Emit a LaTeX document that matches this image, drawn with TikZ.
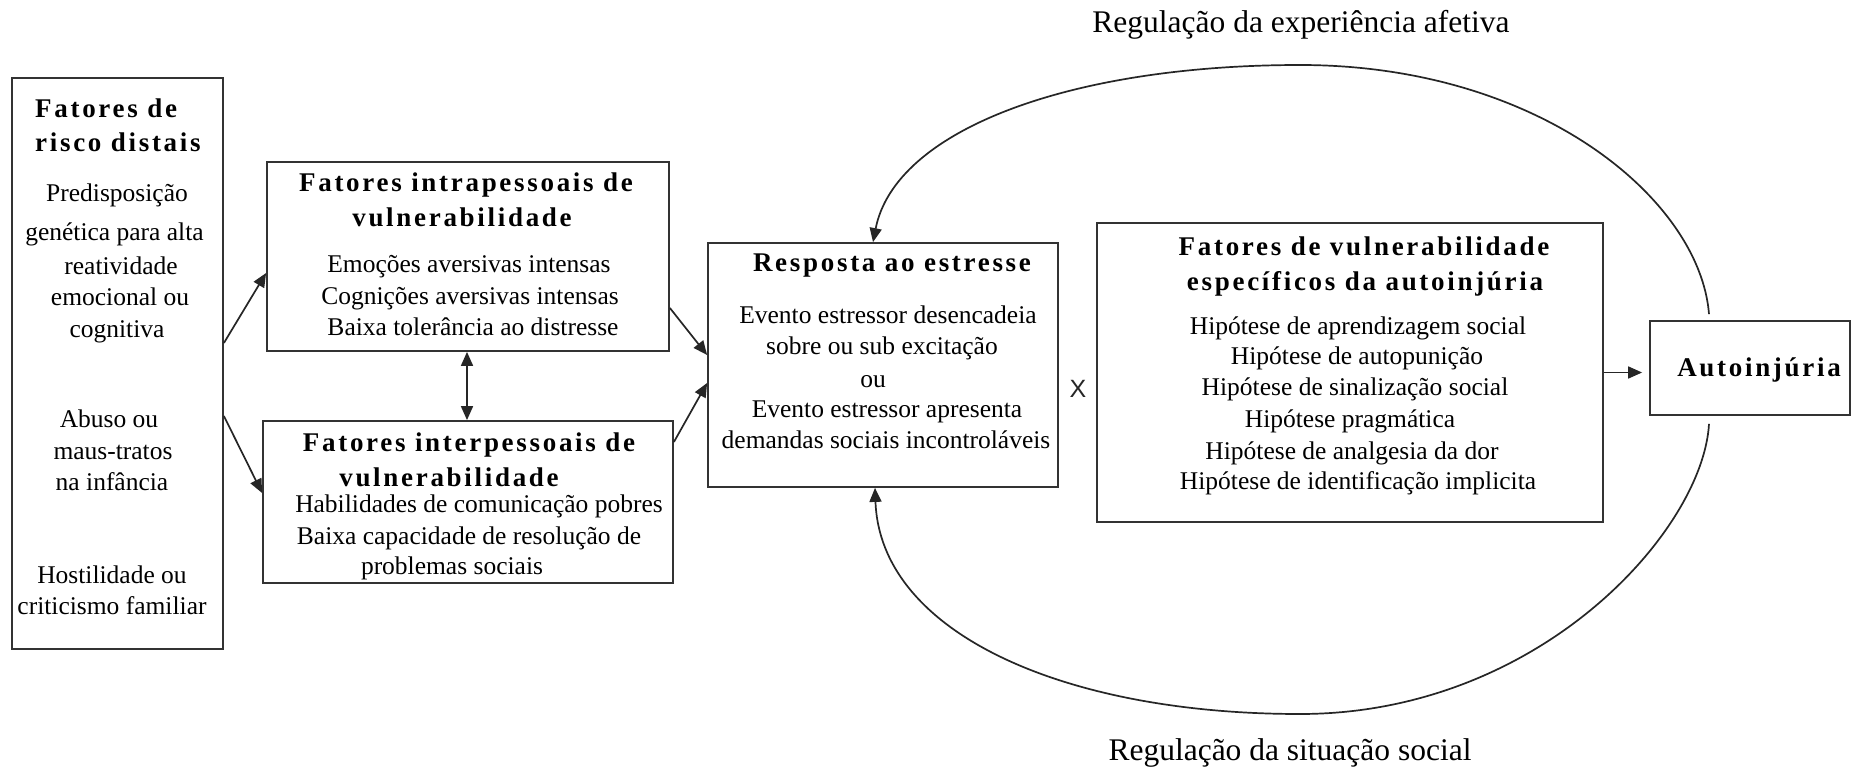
\documentclass[tikz,border=0pt]{standalone}
\usepackage{fontspec}
\setmainfont{Liberation Serif}
\newfontfamily\ttlfont[LetterSpace=10]{Liberation Serif}
\newfontfamily\xfont{Liberation Sans}
\usetikzlibrary{arrows.meta}
\begin{document}
\begin{tikzpicture}[x=1pt,y=-1pt,
  box/.style={draw=black!80, line width=1.8pt, inner sep=0pt, rectangle},
  bt/.style={font=\fontsize{25.5pt}{30pt}\selectfont, anchor=base, inner sep=0pt, text=black},
  tt/.style={font=\ttlfont\bfseries\fontsize{27pt}{30pt}\selectfont, anchor=base, inner sep=0pt, text=black},
  lbl/.style={font=\fontsize{31.5pt}{34pt}\selectfont, anchor=base, inner sep=0pt, text=black},
  arr/.style={-{Triangle[length=14pt,width=12pt]}, line width=1.7pt, draw=black!85},
  darr/.style={{Triangle[length=14pt,width=12pt]}-{Triangle[length=14pt,width=12pt]}, line width=1.7pt, draw=black!85},
]
\useasboundingbox (0,0) rectangle (1852,768);
\fill[white] (0,0) rectangle (1852,768);

% boxes
\node[box, minimum width=211pt, minimum height=571pt] (dist) at (117.5,363.5) {};
\node[box, minimum width=402pt, minimum height=189pt] (intra) at (468,256.5) {};
\node[box, minimum width=410pt, minimum height=162pt] (inter) at (468,502) {};
\node[box, minimum width=350pt, minimum height=244pt] (resp) at (883,365) {};
\node[box, minimum width=506pt, minimum height=299pt] (vuln) at (1350,372.5) {};
\node[box, minimum width=200pt, minimum height=94pt] (auto) at (1750,368) {};

% distal risk factors
\node[tt, anchor=base west] (d1) at (35,117) {Fatores de};
\node[tt, anchor=base west] (d2) at (35,151) {risco distais};
\node[bt] (d3) at (117,201) {Predisposição};
\node[bt] (d4) at (114.5,240) {genética para alta};
\node[bt] (d5) at (121,274) {reatividade};
\node[bt] (d6) at (120,305) {emocional ou};
\node[bt] (d7) at (117,337) {cognitiva};
\node[bt] (d8) at (109,427) {Abuso ou};
\node[bt] (d9) at (113,459) {maus-tratos};
\node[bt] (d10) at (112,490) {na infância};
\node[bt] (d11) at (112,583) {Hostilidade ou};
\node[bt] (d12) at (112,614) {criticismo familiar};

% intrapersonal
\node[tt] (i1) at (466,191) {Fatores intrapessoais de};
\node[tt] (i2) at (462,226) {vulnerabilidade};
\node[bt] (i3) at (469,272) {Emoções aversivas intensas};
\node[bt] (i4) at (470,304) {Cognições aversivas intensas};
\node[bt] (i5) at (473,335) {Baixa tolerância ao distresse};

% interpersonal
\node[tt] (p1) at (469,451) {Fatores interpessoais de};
\node[tt] (p2) at (449,486) {vulnerabilidade};
\node[bt] (p3) at (479,512) {Habilidades de comunicação pobres};
\node[bt] (p4) at (469,544) {Baixa capacidade de resolução de};
\node[bt] (p5) at (452,574) {problemas sociais};

% stress response
\node[tt] (r1) at (892,271) {Resposta ao estresse};
\node[bt] (r2) at (888,323) {Evento estressor desencadeia};
\node[bt] (r3) at (882,354) {sobre ou sub excitação};
\node[bt] (r4) at (873,387) {ou};
\node[bt] (r5) at (887,417) {Evento estressor apresenta};
\node[bt] (r6) at (886,448) {demandas sociais incontroláveis};

\node[font=\xfont\fontsize{25pt}{25pt}\selectfont, inner sep=0pt, text=black!85] (xx) at (1078,389) {X};

% specific vulnerability
\node[tt] (v1) at (1364,255) {Fatores de vulnerabilidade};
\node[tt] (v2) at (1365,290) {específicos da autoinjúria};
\node[bt] (v3) at (1358,334) {Hipótese de aprendizagem social};
\node[bt] (v4) at (1357,364) {Hipótese de autopunição};
\node[bt] (v5) at (1355,395) {Hipótese de sinalização social};
\node[bt] (v6) at (1350,427) {Hipótese pragmática};
\node[bt] (v7) at (1352,459) {Hipótese de analgesia da dor};
\node[bt] (v8) at (1358,489) {Hipótese de identificação implicita};

% self-injury
\node[tt] (a1) at (1759,376) {Autoinjúria};

% labels
\node[lbl] (lt) at (1301,33) {Regulação da experiência afetiva};
\node[lbl] (lb) at (1290,760) {Regulação da situação social};

% connectors
\draw[arr] ([yshift=20.5pt]dist.east) -- ([yshift=-16.5pt]intra.west);
\draw[arr] ([yshift=-52.5pt]dist.east) -- ([yshift=9pt]inter.west);
\draw[darr] ([xshift=-1pt]intra.south) -- ([xshift=-1pt]inter.north);
\draw[arr] ([yshift=-51.5pt]intra.east) -- ([yshift=10pt]resp.west);
\draw[arr] ([yshift=60pt]inter.east) -- ([yshift=-18pt]resp.west);
\draw[arr] (vuln.east) -- ([xshift=-7pt]auto.west |- vuln.east);

\coordinate (ttop) at (1300,65);
\coordinate (btop) at (1300,714);
\draw[arr] ([xshift=-41pt,yshift=6pt]auto.north) .. controls (1700,200) and (1540,65) .. (ttop)
  .. controls (1070,65) and (895,130) .. ([xshift=-10pt]resp.north);
\draw[arr] ([xshift=-41pt,yshift=-8pt]auto.south) .. controls (1703,530) and (1540,714) .. (btop)
  .. controls (1062,714) and (880,632) .. ([xshift=-8pt]resp.south);
\end{tikzpicture}
\end{document}
